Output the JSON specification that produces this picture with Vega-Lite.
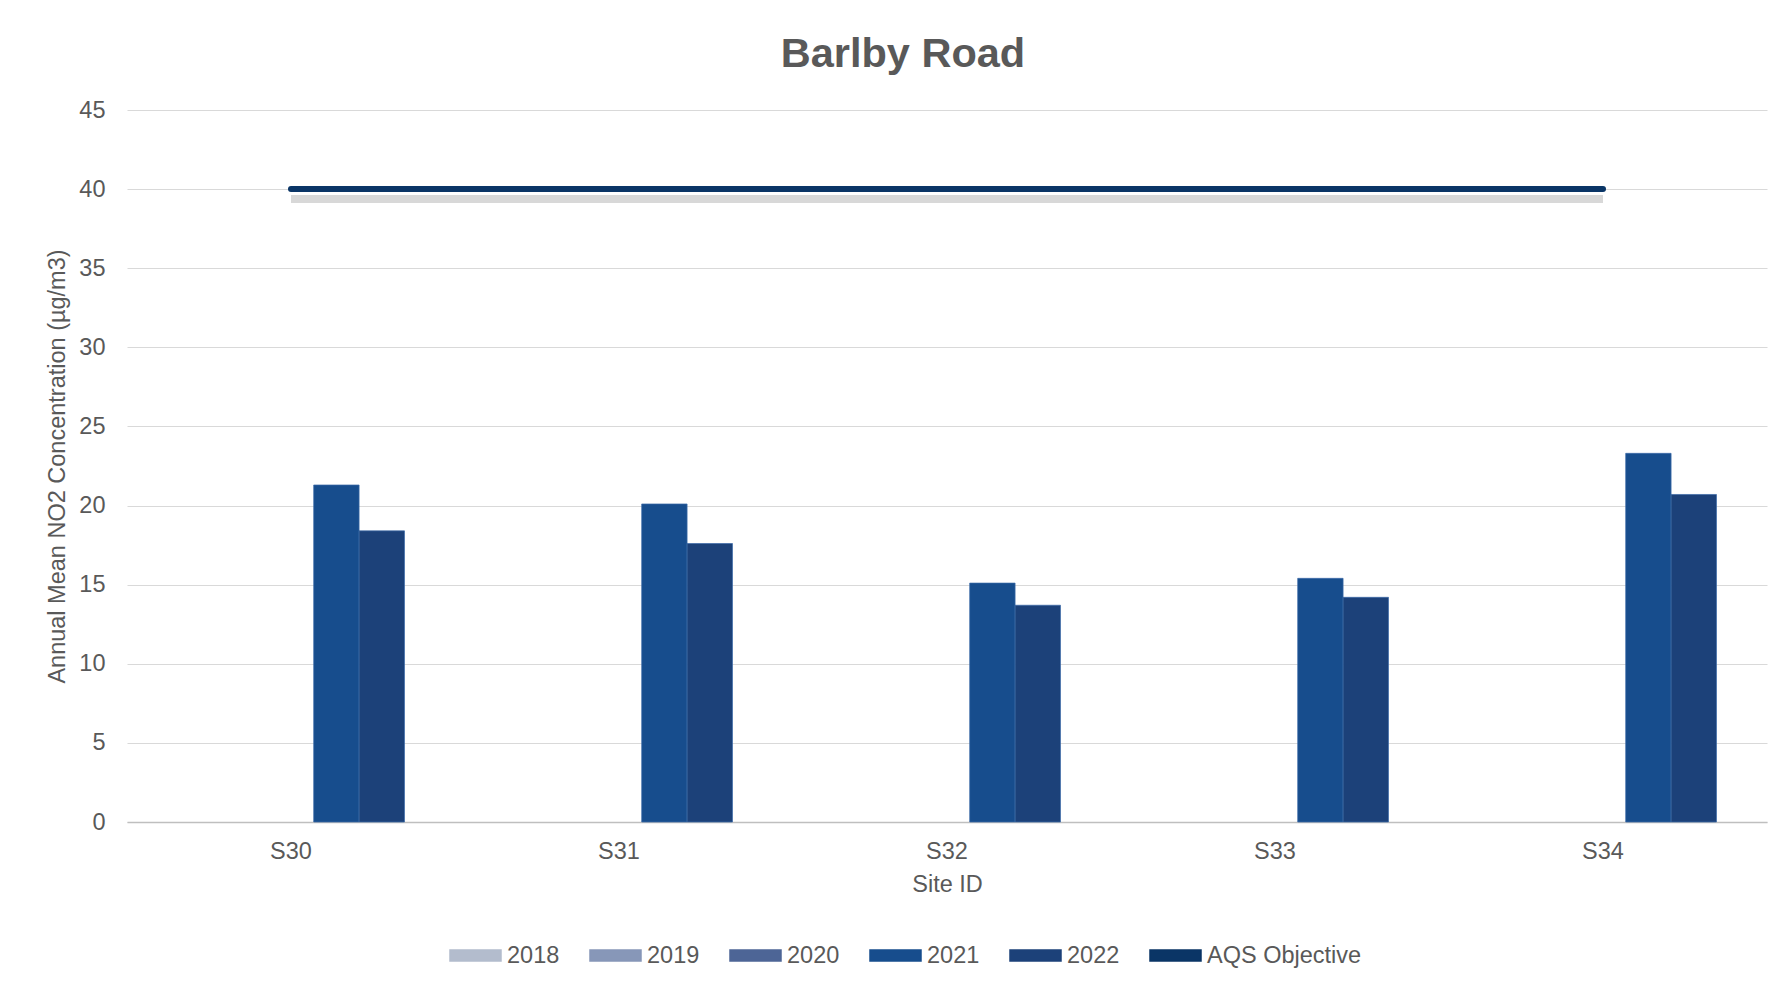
{
  "$schema": "https://vega.github.io/schema/vega-lite/v6.json",
  "width": 1640,
  "height": 712,
  "autosize": {"type": "none"},
  "padding": {"left": 127, "top": 110, "right": 13, "bottom": 163},
  "background": "white",
  "config": {
    "font": "Liberation Sans",
    "view": {"stroke": null},
    "axis": {"labelFont": "Liberation Sans", "titleFont": "Liberation Sans", "labelColor": "#595959", "titleColor": "#595959", "labelFontSize": 23.5, "titleFontSize": 23.5, "titleFontWeight": "normal"}
  },
  "title": {"text": "Barlby Road", "font": "Liberation Sans", "fontSize": 41.5, "fontWeight": "bold", "color": "#595959", "anchor": "middle", "dx": -44, "offset": 23},
  "datasets": {
    "bars": [
      {"site": "S30", "series": "2021", "value": 21.3},
      {"site": "S30", "series": "2022", "value": 18.4},
      {"site": "S31", "series": "2021", "value": 20.1},
      {"site": "S31", "series": "2022", "value": 17.6},
      {"site": "S32", "series": "2021", "value": 15.1},
      {"site": "S32", "series": "2022", "value": 13.7},
      {"site": "S33", "series": "2021", "value": 15.4},
      {"site": "S33", "series": "2022", "value": 14.2},
      {"site": "S34", "series": "2021", "value": 23.3},
      {"site": "S34", "series": "2022", "value": 20.7}
    ],
    "aqs": [
      {"site": "S30", "series": "AQS Objective", "value": 40},
      {"site": "S31", "series": "AQS Objective", "value": 40},
      {"site": "S32", "series": "AQS Objective", "value": 40},
      {"site": "S33", "series": "AQS Objective", "value": 40},
      {"site": "S34", "series": "AQS Objective", "value": 40}
    ]
  },
  "encoding": {
    "x": {"field": "site", "type": "nominal", "sort": ["S30", "S31", "S32", "S33", "S34"],
      "scale": {"paddingInner": 0.308, "paddingOuter": 0.154},
      "axis": {"title": "Site ID", "labelAngle": 0, "ticks": false, "domain": true, "domainColor": "#bfbfbf", "domainWidth": 1.5, "labelPadding": 17, "titlePadding": 10, "grid": false}},
    "y": {"field": "value", "type": "quantitative",
      "scale": {"domain": [0, 45], "nice": false},
      "axis": {"title": "Annual Mean NO2 Concentration (µg/m3)", "values": [0, 5, 10, 15, 20, 25, 30, 35, 40, 45], "domain": false, "ticks": false, "labelPadding": 22, "titlePadding": 9, "grid": true, "gridColor": "#d9d9d9", "gridWidth": 1.2}}
  },
  "layer": [
    {
      "data": {"name": "bars"},
      "mark": {"type": "bar", "stroke": "#3a6aa8", "strokeWidth": 1, "strokeOpacity": 0.7},
      "encoding": {
        "xOffset": {"field": "series", "type": "nominal", "scale": {"domain": ["2018", "2019", "2020", "2021", "2022"], "paddingInner": 0, "paddingOuter": 0}},
        "color": {"field": "series", "type": "nominal",
          "scale": {"domain": ["2018", "2019", "2020", "2021", "2022", "AQS Objective"], "range": ["#b3bccd", "#8797b8", "#4d6596", "#174d8d", "#1c4179", "#0a3566"]},
          "legend": {"title": null, "orient": "none", "legendX": 322, "legendY": 819, "direction": "horizontal", "columns": 6, "columnPadding": 27, "labelOffset": 5, "symbolSize": 2601, "symbolType": "M-1,-0.216H1V0.216H-1Z", "labelFontSize": 23.5, "labelColor": "#595959", "labelFont": "Liberation Sans",
            "encode": {"symbols": {"update": {
              "shape": {"signal": "datum.value === 'AQS Objective' ? 'M-0.98,-0.12H1.06A0.12,0.12,0,0,1,1.06,0.12H-0.98A0.12,0.12,0,0,1,-0.98,-0.12Z' : 'M-1,-0.216H1V0.216H-1Z'"},
              "fill": {"scale": "color", "field": "value"},
              "fillOpacity": {"value": 1},
              "opacity": {"value": 1},
              "strokeWidth": {"value": 0}
            }}}}
        }
      }
    },
    {
      "data": {"name": "aqs"},
      "mark": {"type": "line", "stroke": "#a8a8a8", "strokeWidth": 8, "opacity": 0.45, "yOffset": 10, "strokeCap": "butt"},
      "encoding": {}
    },
    {
      "data": {"name": "aqs"},
      "mark": {"type": "line", "strokeWidth": 6, "strokeCap": "round"},
      "encoding": {
        "color": {"field": "series", "type": "nominal"}
      }
    }
  ]
}
